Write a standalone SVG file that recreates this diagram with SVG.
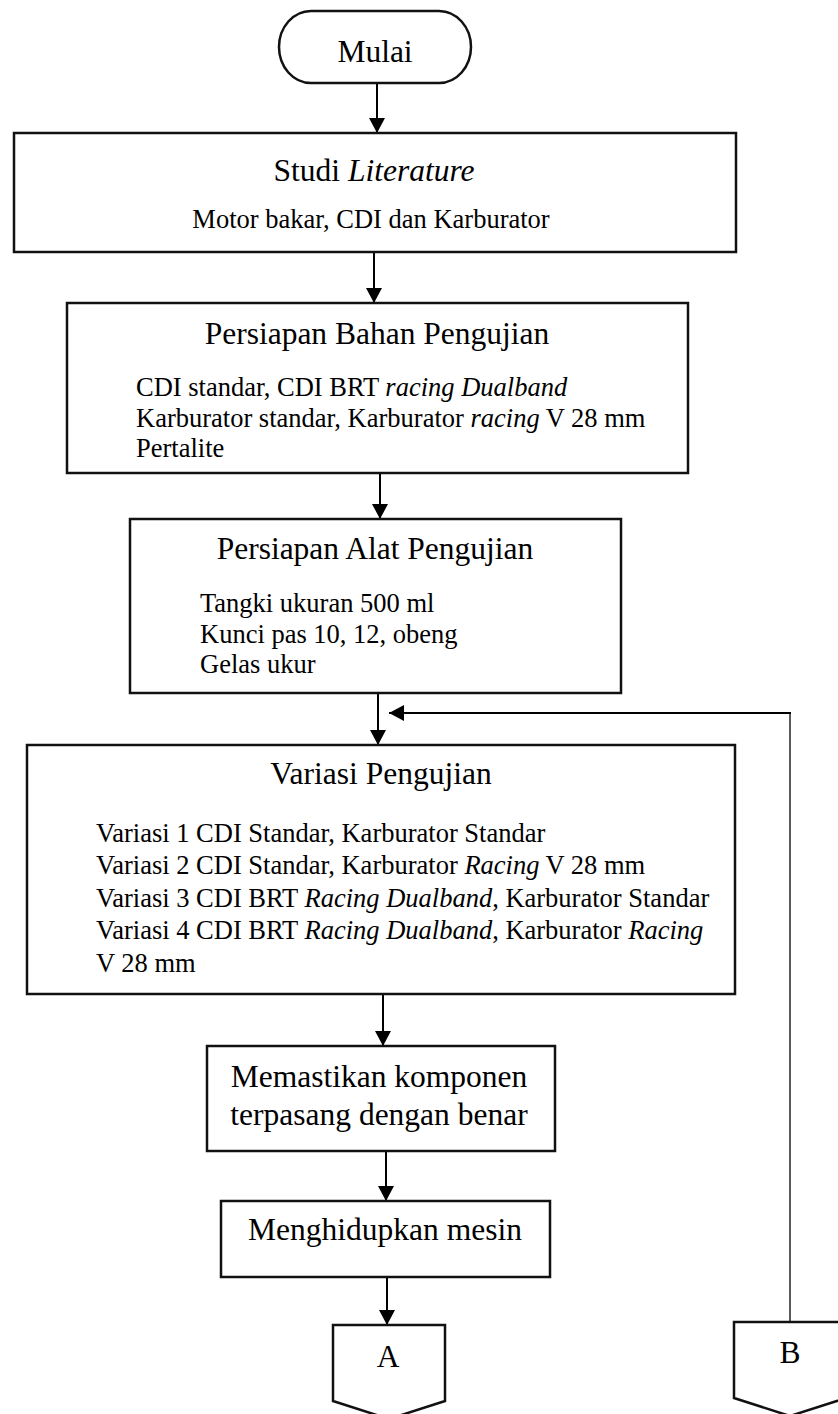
<svg xmlns="http://www.w3.org/2000/svg" width="838" height="1414" viewBox="0 0 838 1414">
<style>
.box{fill:#fff;stroke:#111;stroke-width:2.5}
.t{font-family:"Liberation Serif","Times New Roman",serif;font-size:31.5px;fill:#000}
.b{font-family:"Liberation Serif","Times New Roman",serif;font-size:26.5px;fill:#000}
.mid{text-anchor:middle}
.i{font-style:italic}
.con{fill:none;stroke:#000;stroke-width:2}
.thin{fill:none;stroke:#000;stroke-width:1.3}
</style>
<defs>
<marker id="ah" markerUnits="userSpaceOnUse" markerWidth="16" markerHeight="16" refX="15" refY="8" orient="auto">
<path d="M0,0 L15,8 L0,16 z" fill="#000"/>
</marker>
</defs>
<rect width="838" height="1414" fill="#fff"/>
<g id="connectors">
<line class="con" x1="377" y1="83" x2="377" y2="133" marker-end="url(#ah)"/>
<line class="con" x1="374" y1="252" x2="374" y2="303" marker-end="url(#ah)"/>
<line class="con" x1="380" y1="473" x2="380" y2="519" marker-end="url(#ah)"/>
<line class="con" x1="378" y1="693" x2="378" y2="745" marker-end="url(#ah)"/>
<line class="con" x1="383" y1="994" x2="383" y2="1046" marker-end="url(#ah)"/>
<line class="con" x1="386" y1="1151" x2="386" y2="1201" marker-end="url(#ah)"/>
<line class="con" x1="387" y1="1277" x2="387" y2="1325" marker-end="url(#ah)"/>
<line class="thin" x1="790" y1="1322" x2="790" y2="713"/>
<line class="con" x1="791" y1="713" x2="389" y2="713" marker-end="url(#ah)"/>
</g>
<g id="mulai">
<rect class="box" x="279" y="11" width="192" height="72" rx="32" ry="36"/>
<text class="t mid" x="375" y="62">Mulai</text>
</g>
<g id="studi">
<rect class="box" x="14" y="133" width="722" height="119"/>
<text class="t mid" x="374" y="181">Studi <tspan class="i">Literature</tspan></text>
<text class="b mid" x="371" y="228">Motor bakar, CDI dan Karburator</text>
</g>
<g id="bahan">
<rect class="box" x="67" y="303" width="621" height="170"/>
<text class="t mid" x="377" y="344">Persiapan Bahan Pengujian</text>
<text class="b" x="136" y="396">CDI standar, CDI BRT <tspan class="i">racing Dualband</tspan></text>
<text class="b" x="136" y="427">Karburator standar, Karburator <tspan class="i">racing</tspan> V 28 mm</text>
<text class="b" x="136" y="457">Pertalite</text>
</g>
<g id="alat">
<rect class="box" x="130" y="519" width="491" height="174"/>
<text class="t mid" x="375" y="559">Persiapan Alat Pengujian</text>
<text class="b" x="200" y="612">Tangki ukuran 500 ml</text>
<text class="b" x="200" y="643">Kunci pas 10, 12, obeng</text>
<text class="b" x="200" y="673">Gelas ukur</text>
</g>
<g id="variasi">
<rect class="box" x="27" y="745" width="708" height="249"/>
<text class="t mid" x="381" y="784">Variasi Pengujian</text>
<text class="b" x="96" y="842">Variasi 1 CDI Standar, Karburator Standar</text>
<text class="b" x="96" y="874">Variasi 2 CDI Standar, Karburator <tspan class="i">Racing</tspan> V 28 mm</text>
<text class="b" x="96" y="907">Variasi 3 CDI BRT <tspan class="i">Racing Dualband</tspan>, Karburator Standar</text>
<text class="b" x="96" y="939">Variasi 4 CDI BRT <tspan class="i">Racing Dualband</tspan>, Karburator <tspan class="i">Racing</tspan></text>
<text class="b" x="96" y="972">V 28 mm</text>
</g>
<g id="memastikan">
<rect class="box" x="207" y="1046" width="348" height="105"/>
<text class="t mid" x="379" y="1087">Memastikan komponen</text>
<text class="t mid" x="379" y="1125">terpasang dengan benar</text>
</g>
<g id="menghidupkan">
<rect class="box" x="221" y="1201" width="329" height="76"/>
<text class="t mid" x="385" y="1240">Menghidupkan mesin</text>
</g>
<g id="conA">
<path class="box" d="M333,1325 H445 V1401 L389,1419 L333,1401 Z"/>
<text class="t mid" x="388" y="1367">A</text>
</g>
<g id="conB">
<path class="box" d="M734,1322 H846 V1398 L790,1416 L734,1398 Z"/>
<text class="t mid" x="790" y="1363">B</text>
</g>
</svg>
